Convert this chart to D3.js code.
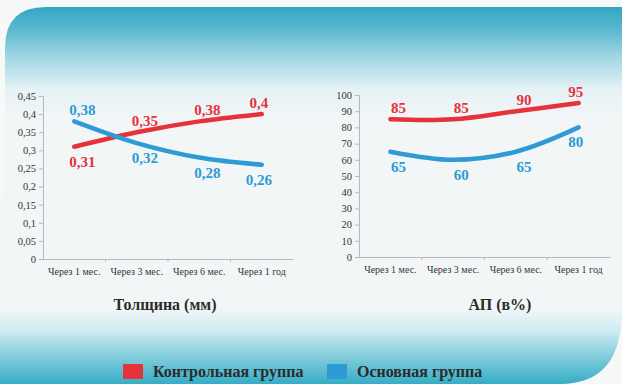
<!DOCTYPE html>
<html>
<head>
<meta charset="utf-8">
<script src="https://cdn.jsdelivr.net/npm/d3@7"></script>
<style>
  body { margin: 0; background: #f7f8f8; }
  svg { display: block; }
  .domain, .tick line { stroke: #b5b9bb; }
</style>
</head>
<body>
<div id="chart"></div>
<script>
var categories = ["Через 1 мес.", "Через 3 мес.", "Через 6 мес.", "Через 1 год"];

// Толщина (мм)
var thickControl = [0.31, 0.35, 0.38, 0.4];
var thickMain    = [0.38, 0.32, 0.28, 0.26];
var thickTicks   = [0, 0.05, 0.1, 0.15, 0.2, 0.25, 0.3, 0.35, 0.4, 0.45];

// АП (в%)
var apControl = [85, 85, 90, 95];
var apMain    = [65, 60, 65, 80];
var apTicks   = [0, 10, 20, 30, 40, 50, 60, 70, 80, 90, 100];

var seriesNames = ["Контрольная группа", "Основная группа"];
var red = "#e5323b", blue = "#2f9bd6";
var serif = "'Liberation Serif', 'Times New Roman', serif";

var width = 622, height = 384;
var svg = d3.select("#chart").append("svg")
    .attr("width", width).attr("height", height);

// background gradient card
var defs = svg.append("defs");
var grad = defs.append("linearGradient").attr("id", "bg")
    .attr("gradientUnits", "userSpaceOnUse")
    .attr("x1", 0).attr("y1", 7).attr("x2", 0).attr("y2", 384);
[[0, "#33a6c3"], [0.06, "#5bb8cf"], [0.13, "#9fd5e3"], [0.22, "#e6f2f5"], [0.3, "#f3f6f7"],
 [0.8, "#f3f6f7"], [0.86, "#cdebf1"], [0.93, "#7fcbdb"], [1, "#36adc6"]].forEach(function(s) {
  grad.append("stop").attr("offset", s[0]).attr("stop-color", s[1]);
});

svg.append("path")
  .attr("d", "M0,384 L0,200 L5,190 L5,48 Q5,7 46,7 L622,7 L622,310 Q622,384 560,384 Z")
  .attr("fill", "url(#bg)");

function panel(opts) {
  var x = d3.scaleBand().domain(categories).range([opts.x0, opts.x1]);
  var y = d3.scaleLinear().domain([0, opts.max]).range([opts.yb, opts.yt]);
  var g = svg.append("g");

  g.append("g").attr("transform", "translate(" + opts.x0 + ",0)")
    .call(d3.axisLeft(y).tickValues(opts.ticks).tickSize(4).tickPadding(3)
      .tickFormat(function(d) { return String(d).replace(".", ","); }))
    .attr("font-family", serif).attr("font-size", 10.5)
    .call(function(a) { a.selectAll("text").attr("fill", "#333"); });

  var xa = g.append("g").attr("transform", "translate(0," + opts.yb + ")")
    .call(d3.axisBottom(x).tickSize(0).tickPadding(9))
    .attr("font-family", serif).attr("font-size", 10);
  xa.selectAll("text").attr("fill", "#333");
  xa.selectAll(".sep").data(categories.slice(1)).enter().append("line")
    .attr("class", "sep")
    .attr("x1", function(d) { return x(d); }).attr("x2", function(d) { return x(d); })
    .attr("y1", 0).attr("y2", 3).attr("stroke", "#b5b9bb");

  var line = d3.line()
    .x(function(d, i) { return x(categories[i]) + x.bandwidth() / 2; })
    .y(function(d) { return y(d); })
    .curve(d3.curveCatmullRom.alpha(0.5));

  var series = [
    { vals: opts.control, other: opts.main, color: red },
    { vals: opts.main, other: opts.control, color: blue }
  ];
  series.forEach(function(s) {
    g.append("path").attr("d", line(s.vals))
      .attr("fill", "none").attr("stroke", s.color)
      .attr("stroke-width", 4.5).attr("stroke-linecap", "round");
  });
  series.forEach(function(s) {
    g.selectAll(null).data(s.vals).enter().append("text")
      .attr("x", function(d, i) {
        return x(categories[i]) + x.bandwidth() / 2 + (i < categories.length - 1 ? 8 : -3);
      })
      .attr("y", function(d, i) { return d >= s.other[i] ? y(d) - 6 : y(d) + 20; })
      .attr("text-anchor", "middle")
      .attr("font-family", serif)
      .attr("font-weight", "bold").attr("font-size", 15)
      .attr("fill", s.color)
      .text(function(d) { return String(d).replace(".", ","); });
  });

  g.append("text").attr("x", opts.titleX).attr("y", 310)
    .attr("text-anchor", "middle")
    .attr("font-family", serif)
    .attr("font-weight", "bold").attr("font-size", 16)
    .attr("fill", "#2b2b2b").text(opts.title);
}

panel({ x0: 43, x1: 293, yb: 259, yt: 96, max: 0.45, ticks: thickTicks,
        control: thickControl, main: thickMain, title: "Толщина (мм)", titleX: 165 });
panel({ x0: 359, x1: 610, yb: 257, yt: 95, max: 100, ticks: apTicks,
        control: apControl, main: apMain, title: "АП (в%)", titleX: 500 });

// legend
var legend = svg.append("g");
var lx = [123, 327];
seriesNames.forEach(function(n, i) {
  legend.append("rect").attr("x", lx[i]).attr("y", 364).attr("width", 20).attr("height", 15)
    .attr("fill", i === 0 ? red : blue);
  legend.append("text").attr("x", lx[i] + 30).attr("y", 377)
    .attr("font-family", serif)
    .attr("font-weight", "bold").attr("font-size", 16)
    .attr("fill", "#2b2b2b").text(n);
});
</script>
</body>
</html>
